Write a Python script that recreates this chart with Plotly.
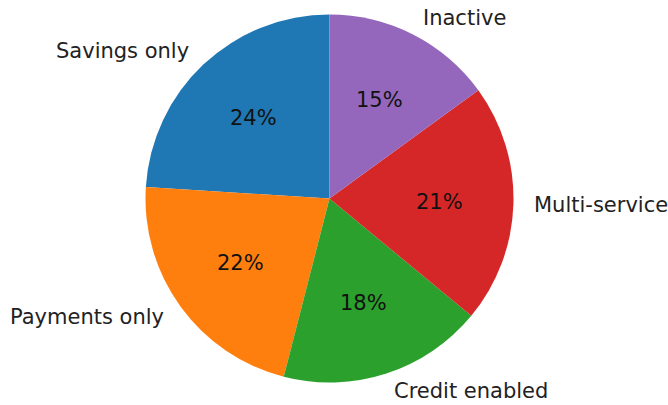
import math
import plotly.graph_objects as go

# Customer segments and their shares (percent)
segments = ["Savings only", "Payments only", "Credit enabled", "Multi-service", "Inactive"]
shares = [24, 22, 18, 21, 15]
colors = ["#1f77b4", "#ff7f0e", "#2ca02c", "#d62728", "#9467bd"]

W, H = 668, 405
cx, cy, r = 329.5, 198.5, 184.0  # pie centre and radius in pixels
font = "DejaVu Sans"
fsize = 21

total = sum(shares)

# Plotly's counterclockwise pies put the first slice to the right of the
# rotation angle; shift so the first wedge starts at 12 o'clock going left.
first_rotation = -360.0 * shares[0] / total

fig = go.Figure(
    go.Pie(
        labels=segments,
        values=shares,
        marker=dict(colors=colors, line=dict(width=0)),
        sort=False,
        direction="counterclockwise",
        rotation=first_rotation,
        textinfo="none",
        hoverinfo="label+percent",
        showlegend=False,
        domain=dict(
            x=[(cx - r) / W, (cx + r) / W],
            y=[(H - cy - r) / H, (H - cy + r) / H],
        ),
    )
)

# Place category labels outside and percentages inside, at each wedge's mid-angle
start = 90.0
annotations = []
for name, val in zip(segments, shares):
    span = 360.0 * val / total
    mid = math.radians(start + span / 2)
    start += span
    cosm, sinm = math.cos(mid), math.sin(mid)
    # percentage label
    px, py = cx + 0.6 * r * cosm, cy - 0.6 * r * sinm
    annotations.append(dict(
        x=px / W, y=1 - py / H, xref="paper", yref="paper",
        text=f"{val / total * 100:.0f}%", showarrow=False,
        xanchor="center", yanchor="middle",
        font=dict(family=font, size=fsize, color="#111111"),
    ))
    # category label
    lx, ly = cx + 1.1 * r * cosm, cy - 1.1 * r * sinm
    annotations.append(dict(
        x=lx / W, y=1 - ly / H, xref="paper", yref="paper",
        text=name, showarrow=False,
        xanchor="left" if cosm > 0 else "right", yanchor="middle",
        font=dict(family=font, size=fsize, color="#222222"),
    ))

fig.update_layout(
    width=W, height=H,
    margin=dict(l=0, r=0, t=0, b=0),
    paper_bgcolor="white",
    plot_bgcolor="white",
    annotations=annotations,
)

fig.write_html("out.html")
